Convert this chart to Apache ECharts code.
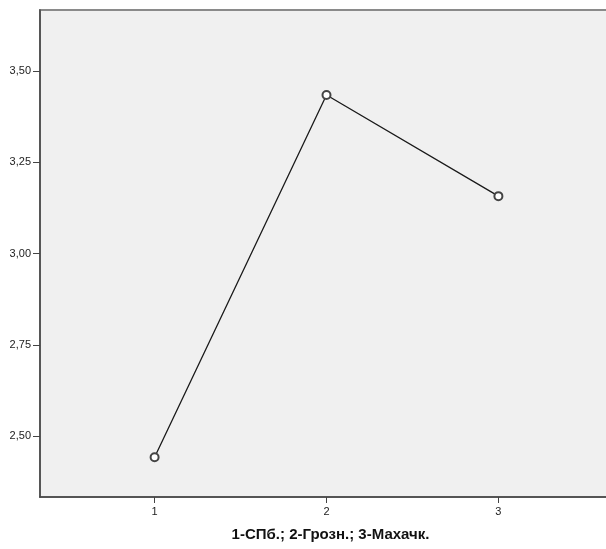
<!DOCTYPE html>
<html>
<head>
<meta charset="utf-8">
<script src="https://cdn.jsdelivr.net/npm/echarts@6/dist/echarts.min.js"></script>
<style>
html,body{margin:0;padding:0;background:#fff;}
#chart{width:606px;height:549px;}
</style>
</head>
<body>
<div id="chart"></div>
<script>
const categories = [1, 2, 3];
const values = [2.442, 3.434, 3.157];
const yTicks = [2.5, 2.75, 3.0, 3.25, 3.5];
const xTitle = '1-СПб.; 2-Грозн.; 3-Махачк.';

const chart = echarts.init(document.getElementById('chart'), null, {renderer: 'canvas'});
const fmt = v => v.toFixed(2).replace('.', ',');
chart.setOption({
  animation: false,
  backgroundColor: '#ffffff',
  grid: {
    left: 40, top: 10, width: 573, height: 487,
    outerBoundsMode: 'none', containLabel: false,
    show: true, backgroundColor: '#f0f0f0', borderColor: '#8a8a8a', borderWidth: 2
  },
  xAxis: {
    type: 'value', min: 1/3, max: 11/3,
    name: xTitle, nameLocation: 'middle', nameGap: 30,
    nameTextStyle: {fontFamily: 'Liberation Sans', fontWeight: 'bold', fontSize: 15, color: '#111', padding: [0, 0, 0, 8]},
    axisLine: {show: true, lineStyle: {color: '#444', width: 1.5}},
    axisTick: {show: true, length: 6, customValues: categories, lineStyle: {color: '#444'}},
    axisLabel: {customValues: categories, fontFamily: 'Liberation Sans', fontSize: 11, color: '#222', margin: 9},
    splitLine: {show: false}
  },
  yAxis: {
    type: 'value', min: 2.5 - 1/6, max: 3.5 + 1/6,
    axisLine: {show: true, lineStyle: {color: '#444', width: 1.5}},
    axisTick: {show: true, length: 7, customValues: yTicks, lineStyle: {color: '#444'}},
    axisLabel: {customValues: yTicks, formatter: fmt, fontFamily: 'Liberation Sans', fontSize: 11, color: '#222', margin: 9},
    splitLine: {show: false}
  },
  series: [{
    type: 'line',
    data: categories.map((c, i) => [c, values[i]]),
    lineStyle: {color: '#1a1a1a', width: 1.3},
    symbol: 'emptyCircle', symbolSize: 8,
    itemStyle: {color: '#444', borderColor: '#444', borderWidth: 1.3}
  }]
});
</script>
</body>
</html>
